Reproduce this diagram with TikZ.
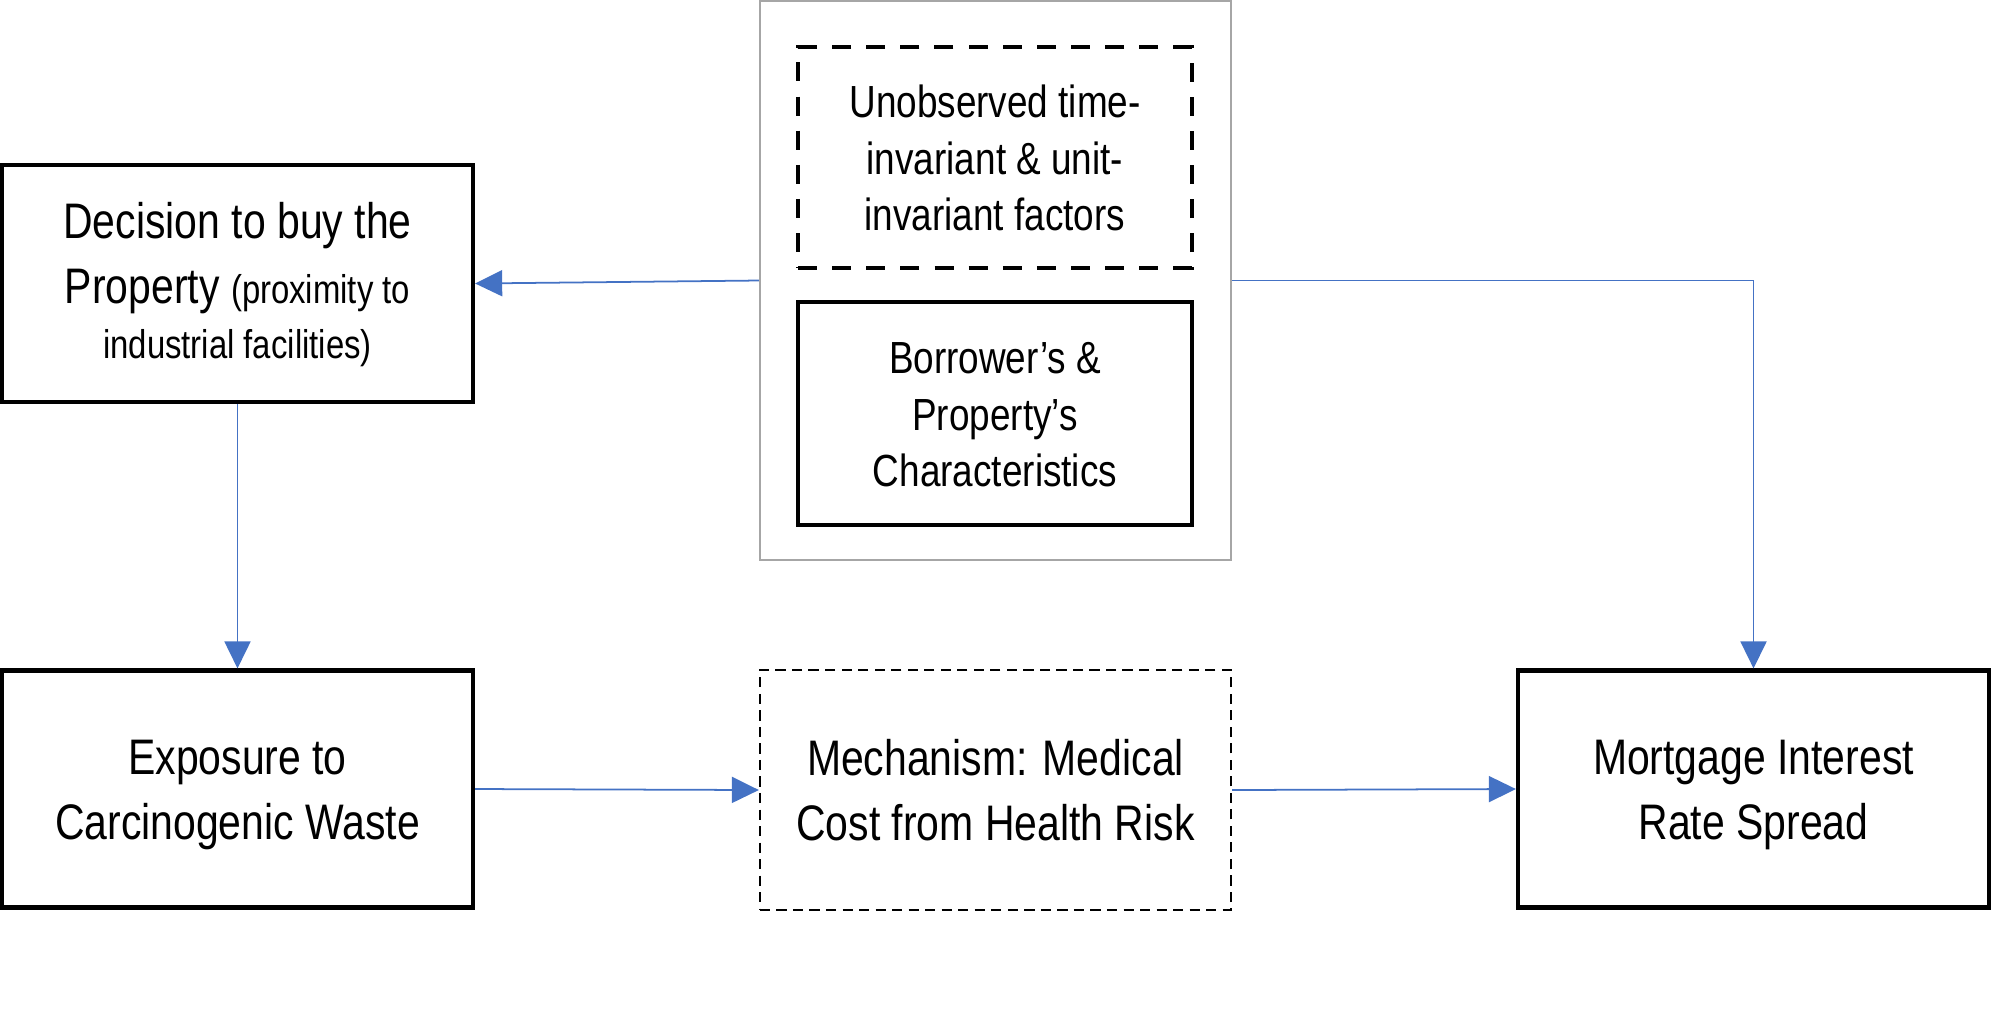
\documentclass[tikz,border=0pt]{standalone}
\usepackage{fontspec}
\setmainfont{Liberation Sans}[FakeStretch=0.82]
\usetikzlibrary{arrows.meta,scopes}
\definecolor{linkblue}{HTML}{4472C4}
\definecolor{framegrey}{HTML}{A6A6A6}
\newcommand\bigsz{\fontsize{14.2}{18.3}\selectfont}
\newcommand\midsz{\fontsize{12.8}{16}\selectfont}
\newcommand\smlsz{\fontsize{11.4}{13.7}\selectfont}
\newcommand\topstr{\rule{0pt}{\dimexpr0.7\baselineskip+1.5pt\relax}}
\newcommand\botstr{\rule[\dimexpr-0.3\baselineskip+1.5pt\relax]{0pt}{0pt}}
\begin{document}
\begin{tikzpicture}[x=0.01cm,y=-0.01cm,
  box/.style={draw,line width=1.28pt,inner sep=0pt,align=center,font=\bigsz,
              minimum width=4.705cm,minimum height=2.365cm},
  mechbox/.style={draw,line width=0.57pt,dash pattern=on 2.9pt off 1.8pt,inner sep=0pt,
              align=center,font=\bigsz,minimum width=4.71cm,minimum height=2.40cm},
  framebox/.style={draw=framegrey,line width=0.57pt,inner sep=0pt,
              minimum width=4.71cm,minimum height=5.59cm},
  innerbox/.style={draw,line width=1.28pt,inner sep=0pt,align=center,font=\midsz,
              minimum width=3.935cm},
  arr/.style={draw=linkblue,line width=0.5pt,-{Triangle[length=2.7mm,width=2.6mm]}}]

\useasboundingbox (0,0) rectangle (1992,1011);

\path node[framebox] (outer) at (995.5,280.5) {}
      node[innerbox,dash pattern=on 5.4pt off 4.3pt,minimum height=2.205cm]
                     (unobs) at (995,157.5) {\topstr Unobserved time-\\invariant \& unit-\\invariant factors\botstr}
      node[innerbox,minimum height=2.225cm]
                     (borr)  at (995,413.5) {\topstr Borrower’s \&\\Property’s\\Characteristics\botstr}
      node[box]      (dec)   at (237.5,283.5) {\strut Decision to buy the\\Property {\smlsz (proximity to}\\[-2.5pt]{\smlsz industrial facilities)\strut}}
      node[box]      (expo)  at (237.5,789)   {\topstr Exposure to\\Carcinogenic Waste\botstr}
      node[mechbox]  (mech)  at (995.5,790)   {\topstr Mechanism: Medical\\Cost from Health Risk\botstr}
      node[box]      (mort)  at (1753.5,789)  {\topstr Mortgage Interest\\Rate Spread\botstr};

{ [arr]
  \draw (outer.west) -- (dec.east);
  \draw (outer.east) -| (mort.north);
  \draw (dec.south)  -- (expo.north);
  \draw (expo.east)  -- (mech.west);
  \draw (mech.east)  -- (mort.west);
}
\end{tikzpicture}
\end{document}
